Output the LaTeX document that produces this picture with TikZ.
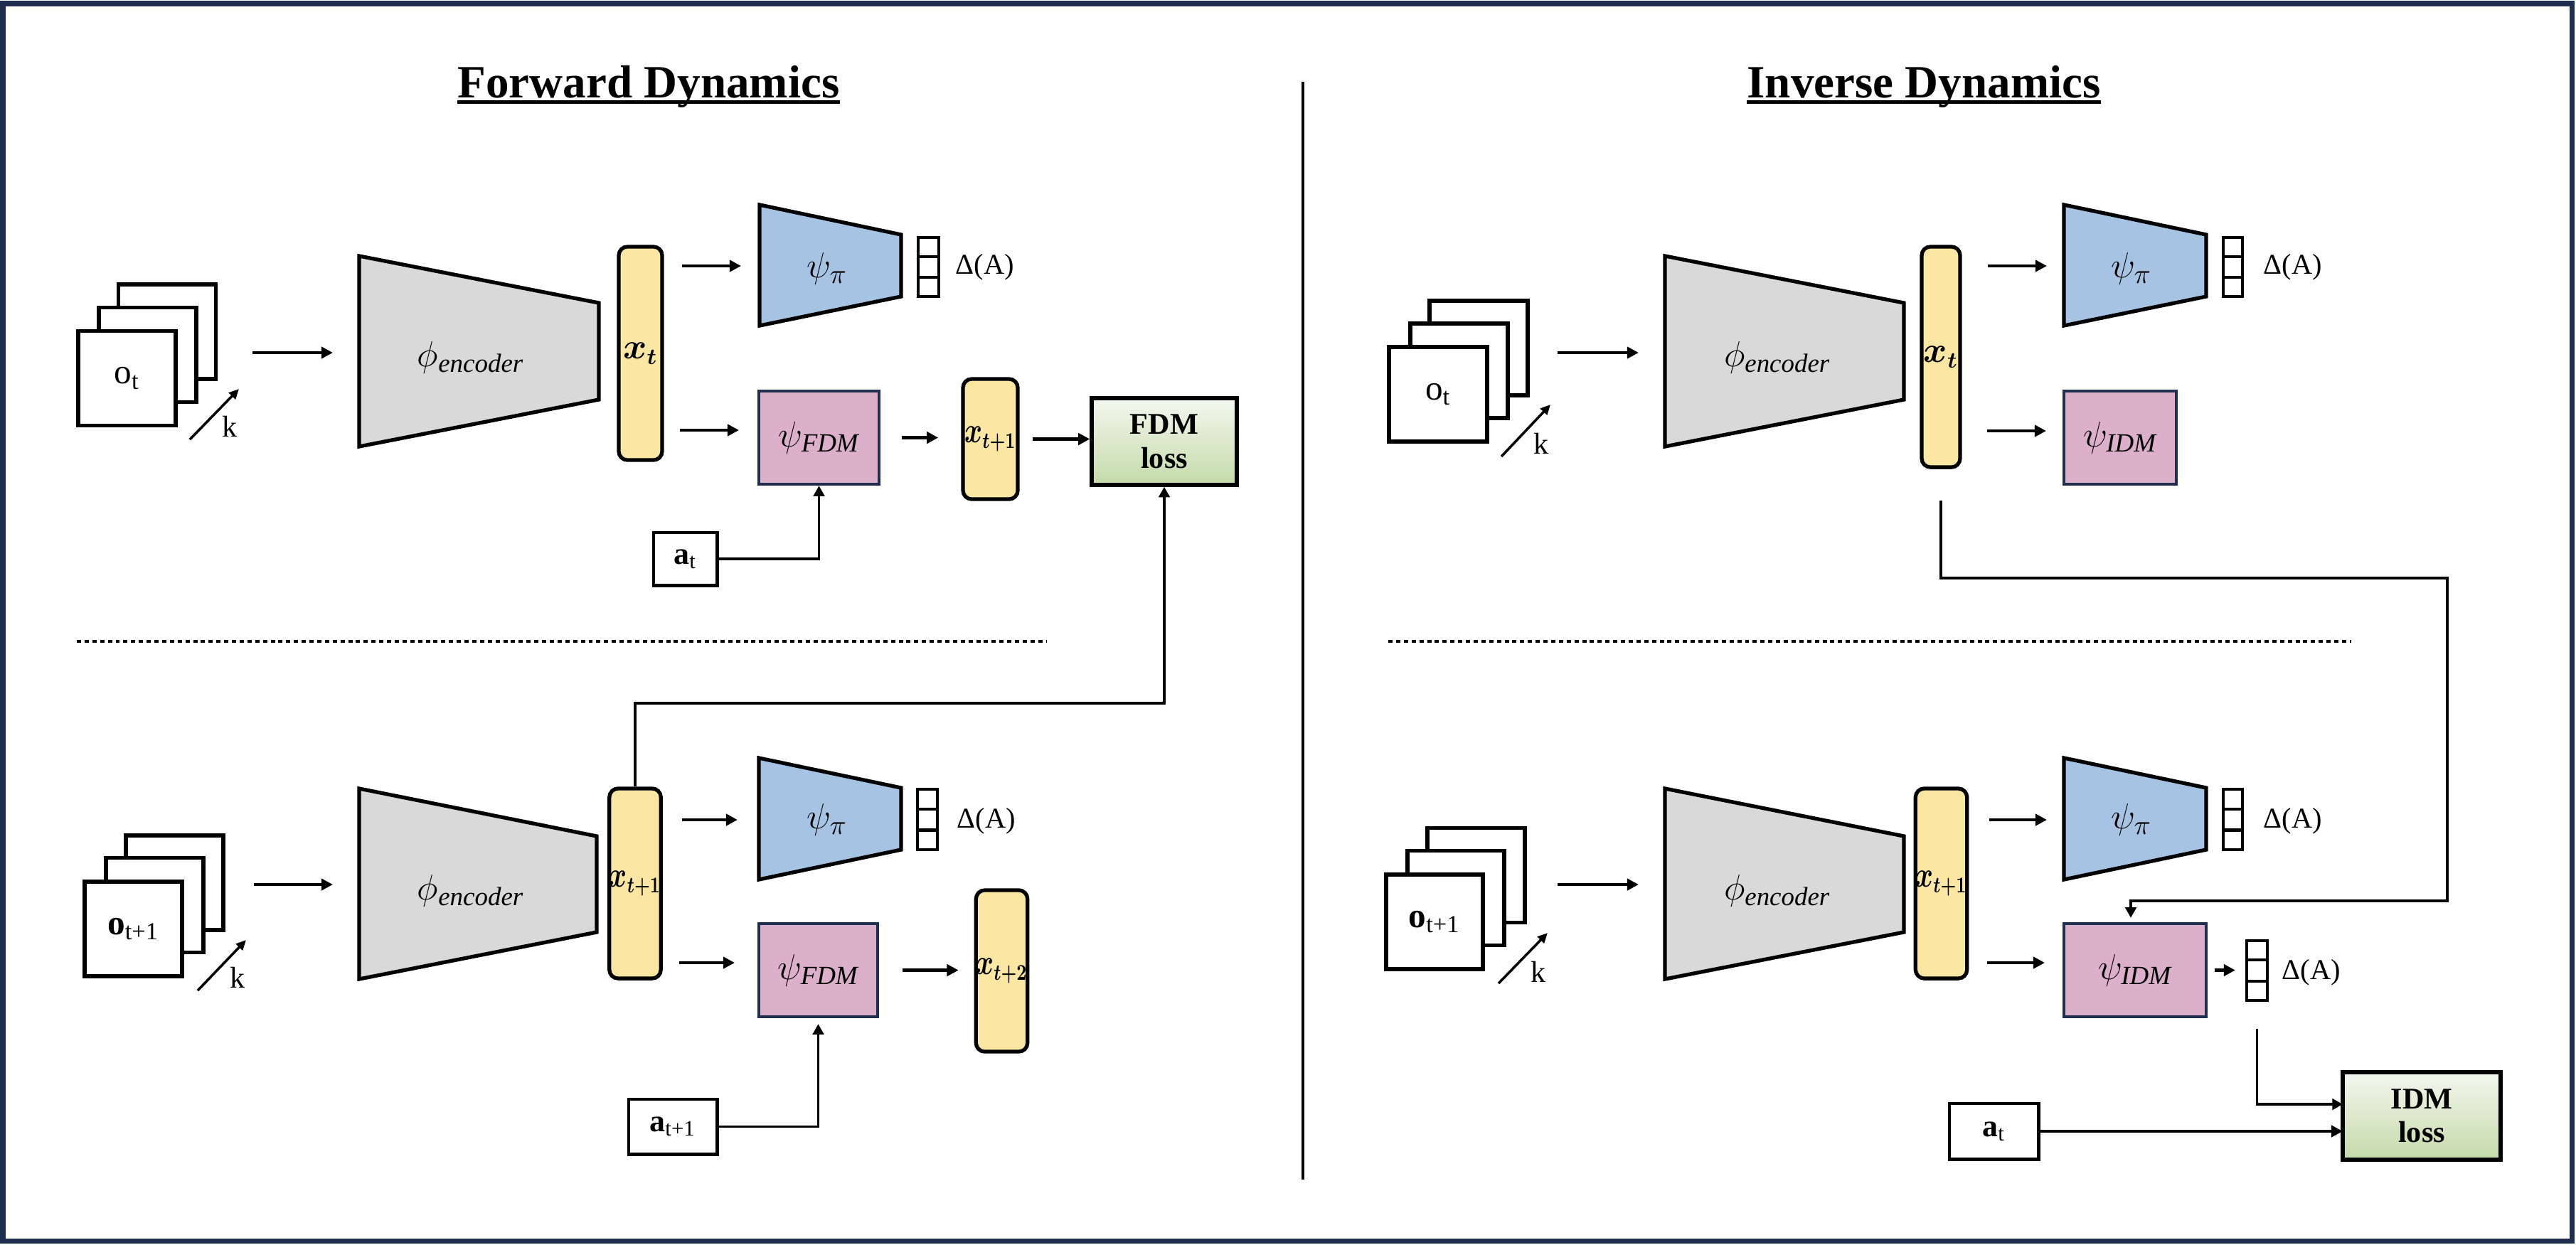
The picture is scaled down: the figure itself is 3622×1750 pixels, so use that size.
\documentclass[tikz,border=0pt]{standalone}
\usepackage{fontspec}
\setmainfont{Liberation Serif}
\usepackage{bm}
\usepackage{graphicx}
\usetikzlibrary{arrows.meta,calc}

\definecolor{navy}{HTML}{1F2D4F}
\definecolor{encgray}{HTML}{D9D9D9}
\definecolor{piblue}{HTML}{A7C3E3}
\definecolor{pinkM}{HTML}{DCAFCB}
\definecolor{barY}{HTML}{FBE6A4}
\definecolor{lossTop}{HTML}{F3F7EF}
\definecolor{lossBot}{HTML}{C4DAA9}

\tikzset{
 stackfr/.style={draw, fill=white, line width=1.6pt, minimum width=1.37cm, minimum height=1.33cm, inner sep=0pt, font=\fontsize{14}{16}\selectfont},
 ybar/.style={draw, fill=barY, line width=1.5pt, rounded corners=3.5pt, inner sep=0pt, font=\fontsize{13.5}{15}\selectfont},
 modbox/.style={draw=navy, fill=pinkM, line width=1.2pt, inner sep=0pt, font=\fontsize{15}{17}\selectfont},
 lossbox/.style={draw, line width=1.5pt, top color=lossTop, bottom color=lossBot, align=center, inner sep=0pt, font=\fontsize{12}{13.5}\selectfont\bfseries},
 actbox/.style={draw, fill=white, line width=1.4pt, inner sep=0pt, font=\fontsize{12.5}{14}\selectfont},
 vecbox/.style={draw, fill=white, line width=1.2pt, inner sep=0pt},
 trapz/.style={draw, line width=1.5pt, line join=miter},
 mlabel/.style={font=\fontsize{15}{17}\selectfont, inner sep=0pt},
 dlabel/.style={font=\fontsize{11.5}{13}\selectfont, inner sep=0pt},
 klabel/.style={font=\fontsize{12}{13}\selectfont, inner sep=0pt},
 arr/.style={line width=1.2pt, -{Triangle[length=4.6pt,width=4.6pt]}},
 conn/.style={line width=1.1pt, -{Triangle[length=4.2pt,width=4.4pt]}},
 karr/.style={line width=1pt, -{Triangle[length=4pt,width=3.6pt]}},
 sepline/.style={line width=1.3pt, dash pattern=on 1.7pt off 1.4pt},
 ttl/.style={font=\fontsize{18.5}{22}\selectfont\bfseries, inner sep=0pt, anchor=base},
}

\newcommand{\myvec}[5]{%
  \node[vecbox, minimum width=#4cm, minimum height=#5cm] (#1) at (#2,#3) {};
  \draw[line width=1.2pt] ($(#1.north west)!1/3!(#1.south west)$) -- ($(#1.north east)!1/3!(#1.south east)$)
    ($(#1.north west)!2/3!(#1.south west)$) -- ($(#1.north east)!2/3!(#1.south east)$);}
\newcommand{\xtone}{\scalebox{0.75}[1]{$\bm{x}_{\bm{t+1}}$}}
\newcommand{\xttwo}{\scalebox{0.75}[1]{$\bm{x}_{\bm{t+2}}$}}

\begin{document}
\begin{tikzpicture}[x=0.01cm, y=-0.01cm]
\useasboundingbox (0,0) rectangle (3622,1750);
\draw[navy, line width=2pt] (4,5) rectangle (3616,1745);

% titles
\node[ttl] (tF) at (912,137) {Forward Dynamics};
\draw[line width=1.4pt] ([yshift=-1.8pt]tF.base west) -- ([yshift=-1.8pt]tF.base east);
\node[ttl] (tI) at (2705,137) {Inverse Dynamics};
\draw[line width=1.4pt] ([yshift=-1.8pt]tI.base west) -- ([yshift=-1.8pt]tI.base east);

% divider
\coordinate (divT) at (1832,115);
\coordinate (divB) at (1832,1659);
\draw[line width=1.4pt] (divT) -- (divB);

% dotted separators
\coordinate (sepL0) at (108,902); \coordinate (sepL1) at (1472,902);
\coordinate (sepR0) at (1952,902); \coordinate (sepR1) at (3306,902);
\draw[sepline] (sepL0) -- (sepL1);
\draw[sepline] (sepR0) -- (sepR1);

%================ Panel A (forward, top) ================
\node[stackfr] (fA3) at (235,466.5) {};
\node[stackfr] (fA2) at (207.5,499) {};
\node[stackfr] (fA1) at (178.5,532) {o\textsubscript{t}};
\coordinate (kA0) at (267,618); \coordinate (kA1) at (336,547);
\draw[karr] (kA0) -- (kA1);
\node[klabel] (kA) at (323,600) {k};
\draw[trapz, fill=encgray] (505,360) -- (842,426) -- (842,562) -- (505,628) -- cycle;
\node[mlabel] (encA) at (662,503) {$\phi_{\mathit{encoder}}$};
\coordinate (encAw) at (505,496);
\draw[arr, shorten <=0.49cm, shorten >=0.37cm] (fA3.east |- encAw) -- (encAw);
\node[ybar, minimum width=0.61cm, minimum height=3.00cm] (xtA) at (900.5,497) {$\bm{x}_{\bm{t}}$};
\draw[trapz, fill=piblue] (1068,288) -- (1267,330) -- (1267,417) -- (1068,458) -- cycle;
\node[mlabel] (piA) at (1163,378) {$\psi_{\pi}$};
\coordinate (piAw) at (1068,374);
\draw[arr, shorten <=0.25cm, shorten >=0.26cm] (xtA.east |- piAw) -- (piAw);
\myvec{vA}{1305.5}{375.5}{0.29}{0.83}
\node[dlabel] (dA) at (1385,376) {Δ(A)};
\node[modbox, minimum width=1.69cm, minimum height=1.31cm] (fdmA) at (1151.5,615.5) {$\psi_{\mathit{FDM}}$};
\coordinate (fdmAin) at (1067,605);
\draw[arr, shorten <=0.22cm, shorten >=0.28cm] (xtA.east |- fdmAin) -- (fdmAin);
\node[ybar, minimum width=0.77cm, minimum height=1.69cm] (xt1A) at (1392.5,617.5) {\xtone};
\draw[arr, shorten <=0.30cm, shorten >=0.32cm] (fdmA.east) -- (fdmA.east -| xt1A.west);
\node[lossbox, minimum width=2.04cm, minimum height=1.22cm] (lossA) at (1637,621) {FDM\\loss};
\draw[arr, shorten <=0.18cm] (xt1A.east) -- (xt1A.east -| lossA.west);
\node[actbox, minimum width=0.89cm, minimum height=0.74cm] (atA) at (963.5,786) {\textbf{a}\textsubscript{t}};
\draw[conn] (atA.east) -| (fdmA.south);

%================ Panel B (forward, bottom) ================
\node[stackfr] (fB3) at (245.5,1241.5) {};
\node[stackfr] (fB2) at (217.5,1273) {};
\node[stackfr] (fB1) at (187.5,1306.5) {\textbf{o}\textsubscript{t+1}};
\coordinate (kB0) at (278,1393); \coordinate (kB1) at (346,1322);
\draw[karr] (kB0) -- (kB1);
\node[klabel] (kB) at (334,1375) {k};
\draw[trapz, fill=encgray] (505,1109) -- (839,1176) -- (839,1311) -- (505,1377) -- cycle;
\node[mlabel] (encB) at (662,1253) {$\phi_{\mathit{encoder}}$};
\coordinate (encBw) at (505,1244);
\draw[arr, shorten <=0.40cm, shorten >=0.37cm] (fB3.east |- encBw) -- (encBw);
\node[ybar, minimum width=0.62cm, minimum height=2.67cm] (xt1B) at (893,1242.5) {\xtone};
\draw[trapz, fill=piblue] (1067,1066) -- (1267,1108) -- (1267,1195) -- (1067,1237) -- cycle;
\node[mlabel] (piB) at (1163,1153) {$\psi_{\pi}$};
\coordinate (piBw) at (1067,1153);
\draw[arr, shorten <=0.27cm, shorten >=0.30cm] (xt1B.east |- piBw) -- (piBw);
\myvec{vB}{1304}{1152.5}{0.28}{0.85}
\node[dlabel] (dB) at (1387,1155) {Δ(A)};
\node[modbox, minimum width=1.67cm, minimum height=1.31cm] (fdmB) at (1150.5,1364.5) {$\psi_{\mathit{FDM}}$};
\coordinate (fdmBin) at (1067,1354);
\draw[arr, shorten <=0.23cm, shorten >=0.34cm] (xt1B.east |- fdmBin) -- (fdmBin);
\node[ybar, minimum width=0.69cm, minimum height=2.27cm] (xt2B) at (1408.5,1365.5) {\xttwo};
\draw[arr, shorten <=0.33cm, shorten >=0.22cm] (fdmB.east) -- (fdmB.east -| xt2B.west);
\node[actbox, minimum width=1.24cm, minimum height=0.77cm] (at1B) at (946,1584.5) {\textbf{a}\textsubscript{t+1}};
\draw[conn, shorten >=0.08cm] (at1B.east) -| (fdmB.south);
% x_{t+1} to FDM loss
\coordinate (bendA) at (893,989);
\draw[conn] (xt1B.north) -- (bendA) -| (lossA.south);

%================ Panel C (inverse, top) ================
\node[stackfr, minimum width=1.38cm] (fC3) at (2079,489.5) {};
\node[stackfr] (fC2) at (2051.5,521.5) {};
\node[stackfr, minimum width=1.38cm] (fC1) at (2022,554.5) {o\textsubscript{t}};
\coordinate (kC0) at (2111,642); \coordinate (kC1) at (2180,569);
\draw[karr] (kC0) -- (kC1);
\node[klabel] (kC) at (2167,624) {k};
\draw[trapz, fill=encgray] (2341,360) -- (2677,426) -- (2677,562) -- (2341,628) -- cycle;
\node[mlabel] (encC) at (2499,503) {$\phi_{\mathit{encoder}}$};
\coordinate (encCw) at (2341,496);
\draw[arr, shorten <=0.39cm, shorten >=0.37cm] (fC3.east |- encCw) -- (encCw);
\node[ybar, minimum width=0.54cm, minimum height=3.10cm] (xtC) at (2729,502) {$\bm{x}_{\bm{t}}$};
\draw[trapz, fill=piblue] (2902,288) -- (3102,330) -- (3102,417) -- (2902,458) -- cycle;
\node[mlabel] (piC) at (2997,378) {$\psi_{\pi}$};
\coordinate (piCw) at (2902,374);
\draw[arr, shorten <=0.36cm, shorten >=0.24cm] (xtC.east |- piCw) -- (piCw);
\myvec{vC}{3139.5}{375.5}{0.27}{0.83}
\node[dlabel] (dC) at (3224,376) {Δ(A)};
\node[modbox, minimum width=1.58cm, minimum height=1.31cm] (idmC) at (2981,615.5) {$\psi_{\mathit{IDM}}$};
\coordinate (idmCin) at (2902,606);
\draw[arr, shorten <=0.35cm, shorten >=0.25cm] (xtC.east |- idmCin) -- (idmCin);

%================ Panel D (inverse, bottom) ================
\node[stackfr, minimum width=1.37cm] (fD3) at (2075.5,1231) {};
\node[stackfr, minimum width=1.36cm] (fD2) at (2047,1263) {};
\node[stackfr, minimum width=1.36cm] (fD1) at (2017,1296.5) {\textbf{o}\textsubscript{t+1}};
\coordinate (kD0) at (2107,1383); \coordinate (kD1) at (2176,1312);
\draw[karr] (kD0) -- (kD1);
\node[klabel] (kD) at (2163,1367) {k};
\draw[trapz, fill=encgray] (2341,1109) -- (2677,1176) -- (2677,1311) -- (2341,1377) -- cycle;
\node[mlabel] (encD) at (2499,1253) {$\phi_{\mathit{encoder}}$};
\coordinate (encDw) at (2341,1244);
\draw[arr, shorten <=0.43cm, shorten >=0.37cm] (fD3.east |- encDw) -- (encDw);
\node[ybar, minimum width=0.67cm, minimum height=2.67cm] (xt1D) at (2729.5,1242.5) {\xtone};
\draw[trapz, fill=piblue] (2902,1066) -- (3102,1108) -- (3102,1195) -- (2902,1237) -- cycle;
\node[mlabel] (piD) at (2997,1153) {$\psi_{\pi}$};
\coordinate (piDw) at (2902,1153);
\draw[arr, shorten <=0.29cm, shorten >=0.24cm] (xt1D.east |- piDw) -- (piDw);
\myvec{vD}{3139.5}{1152.5}{0.27}{0.85}
\node[dlabel] (dD) at (3224,1155) {Δ(A)};
\node[modbox, minimum width=2.00cm, minimum height=1.31cm] (idmD) at (3002,1364.5) {$\psi_{\mathit{IDM}}$};
\coordinate (idmDin) at (2902,1354);
\draw[arr, shorten <=0.26cm, shorten >=0.27cm] (xt1D.east |- idmDin) -- (idmDin);
\myvec{vD2}{3173.5}{1365}{0.29}{0.84}
\draw[arr, shorten <=0.10cm, shorten >=0.14cm] (idmD.east) -- (idmD.east -| vD2.west);
\node[dlabel] (dD2) at (3250,1368) {Δ(A)};
\node[lossbox, minimum width=2.22cm, minimum height=1.23cm] (lossD) at (3405,1569.5) {IDM\\loss};
\coordinate (lossDin1) at (3294,1553);
\coordinate (lossDin2) at (3294,1591);
\draw[conn, shorten <=0.38cm] (vD2.south) |- (lossDin1);
\node[actbox, minimum width=1.25cm, minimum height=0.78cm] (atD) at (2803.5,1591) {\textbf{a}\textsubscript{t}};
\draw[arr] (atD.east) -- (lossDin2);

% x_t (top) to psi_IDM (bottom)
\coordinate (cC1) at (2729,813);
\coordinate (cC2) at (3441,813);
\coordinate (cC3) at (3441,1267);
\coordinate (cC4) at (2996,1267);
\draw[conn, shorten <=0.44cm, shorten >=0.06cm] (xtC.south) -- (cC1) -- (cC2) -- (cC3) -- (cC4) -- (cC4 |- idmD.north);
\end{tikzpicture}
\end{document}
